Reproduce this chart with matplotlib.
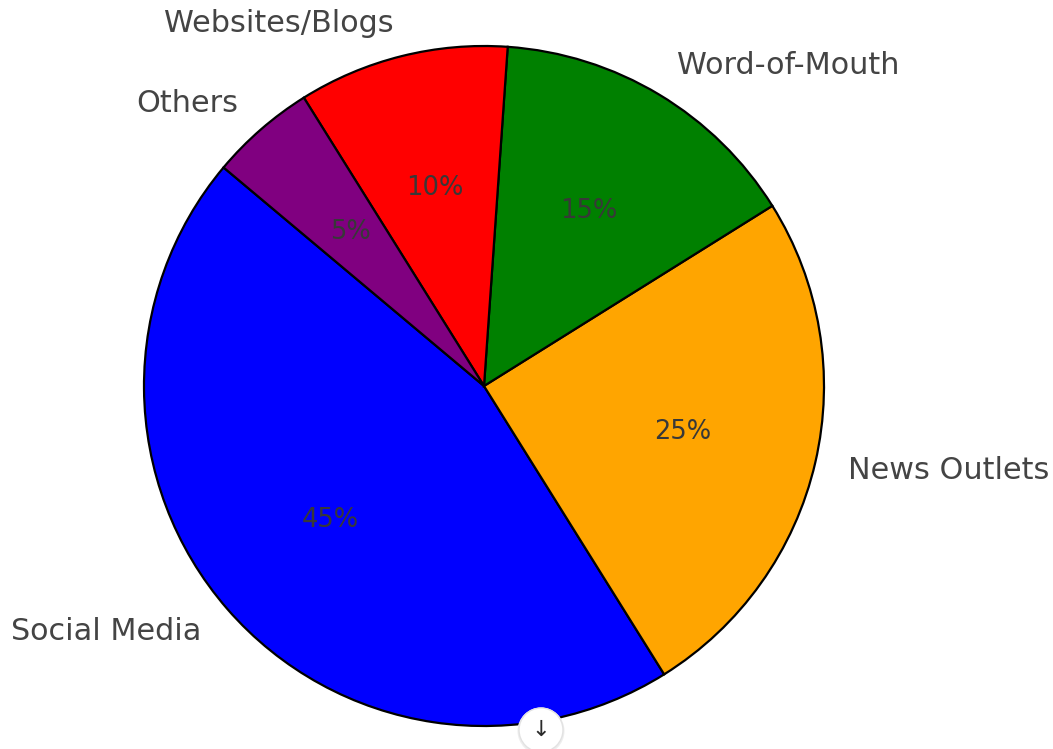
import matplotlib
matplotlib.use("Agg")
import matplotlib.pyplot as plt
from matplotlib.patches import Circle

# Share of information sources
categories = ["Social Media", "News Outlets", "Word-of-Mouth", "Websites/Blogs", "Others"]
shares = [45, 25, 15, 10, 5]
colors = ["blue", "orange", "green", "red", "purple"]

W, H = 1053, 749
fig = plt.figure(figsize=(W / 100, H / 100), dpi=100)
ax = fig.add_axes([0, 0, 1, 1])

wedges, texts, autotexts = ax.pie(
    shares,
    labels=categories,
    colors=colors,
    autopct="%1.0f%%",
    startangle=140,
    labeldistance=1.1,
    pctdistance=0.6,
    wedgeprops=dict(edgecolor="black", linewidth=1.6),
    textprops=dict(fontsize=21.8, color="#444444"),
)
for t in autotexts:
    t.set_fontsize(18.5)
    t.set_color("#383838")

# place the pie: centre at (484, 386) px, radius 340 px
cx, cy, r = 484, 386, 340
ax.set_xlim(-cx / r, (W - cx) / r)
ax.set_ylim(-(H - cy) / r, cy / r)
ax.set_aspect("auto")
ax.axis("off")

# small scroll button at the bottom (positions in inches)
bx, by = 541 / 100, (H - 730) / 100
shadow = Circle((bx, by - 0.01), 0.235, transform=fig.dpi_scale_trans,
                facecolor="#eeeeee", edgecolor="none", zorder=4)
btn = Circle((bx, by), 0.22, transform=fig.dpi_scale_trans,
             facecolor="white", edgecolor="#e2e2e2", linewidth=1.0, zorder=5)
fig.patches.extend([shadow, btn])
fig.text(bx / (W / 100), by / (H / 100), "↓", ha="center", va="center",
         fontsize=16, color="#2a2a2a", zorder=6)

fig.savefig("out.png", dpi=100)
